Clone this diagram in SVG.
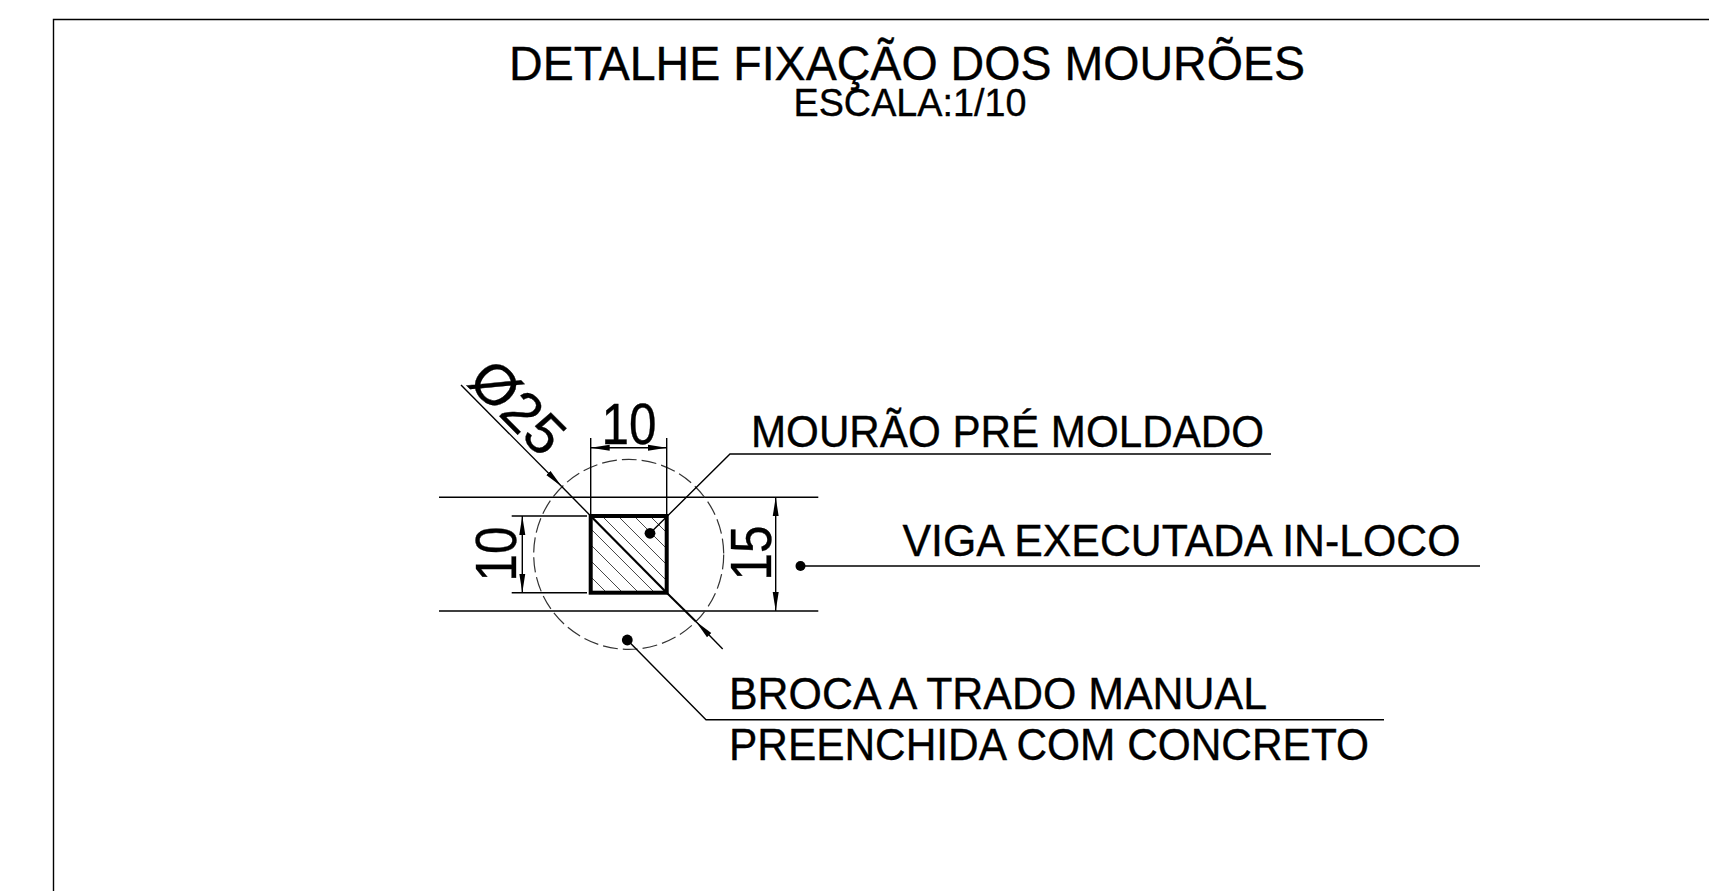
<svg xmlns="http://www.w3.org/2000/svg" width="1709" height="891" viewBox="0 0 1709 891">
  <style>
    text { font-family: "Liberation Sans", Arial, sans-serif; fill: #000; stroke: #000; stroke-width: 0.35; }
    .l { fill: none; stroke: #000; stroke-width: 1.4; }
    .h { fill: none; stroke: #333; stroke-width: 0.9; }
    .dim { font-size: 57px; }
    .lab { font-size: 44px; }
  </style>
  <defs>
    <marker id="a" markerUnits="userSpaceOnUse" markerWidth="20" markerHeight="8" refX="19" refY="4" orient="auto-start-reverse">
      <path d="M0,1 L19,4 L0,7 Z" fill="#000"/>
    </marker>
    <clipPath id="sq"><rect x="590.7" y="516" width="76" height="76.7"/></clipPath>
  </defs>
  <rect width="1709" height="891" fill="#fff"/>
  <path id="frame" class="l" d="M1709,19.5 H53.5 V891"/>

  <g id="title">
    <text x="509" y="79.5" font-size="48" textLength="796" lengthAdjust="spacingAndGlyphs">DETALHE FIXAÇÃO DOS MOURÕES</text>
    <text x="793.5" y="115.5" font-size="39" textLength="233" lengthAdjust="spacingAndGlyphs">ESCALA:1/10</text>
  </g>

  <g id="viga">
    <path class="l" d="M439,497.3 H818.3 M439,611 H818.3"/>
  </g>
  <g id="broca">
    <circle cx="628.7" cy="554.4" r="95" fill="none" stroke="#333" stroke-width="1.2" stroke-dasharray="15 5"/>
  </g>
  <g id="mourao">
    <g clip-path="url(#sq)">
      <path class="h" d="M590,528 L667,605 M590,544 L667,621 M590,560 L667,637 M590,576 L667,653 M602,516 L679,593 M618,516 L695,593 M634,516 L711,593 M650,516 L727,593"/>
    </g>
    <rect x="590.7" y="516" width="76" height="76.7" fill="none" stroke="#000" stroke-width="4"/>
  </g>

  <g id="connectors">
    <path class="l" d="M461,385 L561.7,486.5" marker-end="url(#a)"/>
    <path class="l" d="M561.7,486.5 L590.7,516"/>
    <path d="M590.7,516 L666.7,592.7" fill="none" stroke="#000" stroke-width="2.2"/>
    <path d="M666.7,592.7 L695.9,621.5" fill="none" stroke="#000" stroke-width="2"/>
    <path class="l" d="M722.7,649 L695.9,621.5" marker-end="url(#a)"/>
    <path class="l" d="M590.7,438 V514 M666.7,438 V514"/>
    <path class="l" d="M590.7,447.7 H666.7" marker-start="url(#a)" marker-end="url(#a)"/>
    <path class="l" d="M511.7,516 H587 M511.7,592.7 H587"/>
    <path class="l" d="M522.3,516 V592.7" marker-start="url(#a)" marker-end="url(#a)"/>
    <path class="l" d="M775.7,497.3 V611" marker-start="url(#a)" marker-end="url(#a)"/>
    <path class="l" d="M650,533.3 L730,454 H1271"/>
    <path class="l" d="M800.5,566 H1480"/>
    <path class="l" d="M627.3,640 L706,719.7 H1384"/>
    <circle cx="650" cy="533.3" r="5.4"/>
    <circle cx="800.5" cy="566" r="5"/>
    <circle cx="627.3" cy="640" r="5.4"/>
    <path class="l" d="M470,386.7 L521.7,382.3"/>
  </g>

  <g id="dimension-labels">
    <text class="dim" text-anchor="middle" x="629" y="443.5" font-size="54" textLength="55" lengthAdjust="spacingAndGlyphs">10</text>
    <text class="dim" text-anchor="middle" transform="translate(515.5,554) rotate(-90)" textLength="55" lengthAdjust="spacingAndGlyphs">10</text>
    <text class="dim" text-anchor="middle" transform="translate(771,553) rotate(-90)" textLength="55" lengthAdjust="spacingAndGlyphs">15</text>
    <text class="dim" text-anchor="middle" transform="translate(504,421) rotate(45)">Ø25</text>
  </g>

  <g id="labels">
    <text class="lab" x="751" y="447" textLength="513" lengthAdjust="spacingAndGlyphs">MOURÃO PRÉ MOLDADO</text>
    <text class="lab" x="902.5" y="556" textLength="558" lengthAdjust="spacingAndGlyphs">VIGA EXECUTADA IN-LOCO</text>
    <text class="lab" x="729" y="709" textLength="538" lengthAdjust="spacingAndGlyphs">BROCA A TRADO MANUAL</text>
    <text class="lab" x="729" y="760.3" textLength="640" lengthAdjust="spacingAndGlyphs">PREENCHIDA COM CONCRETO</text>
  </g>
</svg>
